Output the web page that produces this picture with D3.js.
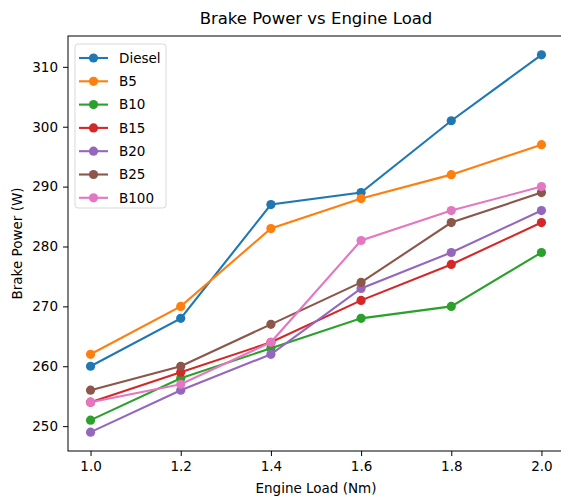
<!DOCTYPE html>
<html>
<head>
<meta charset="utf-8">
<script src="https://cdn.jsdelivr.net/npm/d3@7"></script>
<style>
  body { margin: 0; background: #fff; }
  svg { font-family: "DejaVu Sans", sans-serif; }
</style>
</head>
<body>
<svg id="chart" width="561" height="497"></svg>
<script>
var loads = [1.0, 1.2, 1.4, 1.6, 1.8, 2.0];
var seriesNames = ["Diesel", "B5", "B10", "B15", "B20", "B25", "B100"];
var diesel = [260, 268, 287, 289, 301, 312];
var b5 = [262, 270, 283, 288, 292, 297];
var b10 = [251, 258, 263, 268, 270, 279];
var b15 = [254, 259, 264, 271, 277, 284];
var b20 = [249, 256, 262, 273, 279, 286];
var b25 = [256, 260, 267, 274, 284, 289];
var b100 = [254, 257, 264, 281, 286, 290];
var xTicks = [1.0, 1.2, 1.4, 1.6, 1.8, 2.0];
var yTicks = [250, 260, 270, 280, 290, 300, 310];
var colors = ["#1f77b4", "#ff7f0e", "#2ca02c", "#d62728", "#9467bd", "#8c564b", "#e377c2"];

var allValues = [diesel, b5, b10, b15, b20, b25, b100];
var series = seriesNames.map(function(name, i) {
  return { name: name, color: colors[i], values: loads.map(function(x, j) { return {x: x, y: allValues[i][j]}; }) };
});

var svg = d3.select("#chart"),
    margin = {top: 36, right: -3, bottom: 46, left: 68},
    width = +svg.attr("width") - margin.left - margin.right,
    height = +svg.attr("height") - margin.top - margin.bottom,
    g = svg.append("g").attr("transform", "translate(" + margin.left + "," + margin.top + ")");

// matplotlib-style 5% padding
var ymin = d3.min(allValues, function(a) { return d3.min(a); }),
    ymax = d3.max(allValues, function(a) { return d3.max(a); }),
    ypad = (ymax - ymin) * 0.05;

var x = d3.scaleLinear().domain([0.95, 2.05]).range([0, width]),
    y = d3.scaleLinear().domain([ymin - ypad, ymax + ypad]).range([height, 0]);

var line = d3.line()
    .x(function(d) { return x(d.x); })
    .y(function(d) { return y(d.y); });

var xAxis = g.append("g")
    .attr("transform", "translate(0," + height + ")")
    .call(d3.axisBottom(x).tickValues(xTicks).tickFormat(d3.format(".1f")).tickSizeOuter(0).tickSize(5).tickPadding(5));
var yAxis = g.append("g")
    .call(d3.axisLeft(y).tickValues(yTicks).tickSizeOuter(0).tickSize(5).tickPadding(5));

[xAxis, yAxis].forEach(function(a) {
  a.selectAll("text").attr("font-size", 13.5).attr("fill", "#000").attr("font-family", "DejaVu Sans");
  a.selectAll(".tick line").attr("stroke", "#000");
  a.select(".domain").remove();
});

// frame
g.append("rect")
    .attr("width", width).attr("height", height)
    .attr("fill", "none").attr("stroke", "#000").attr("stroke-width", 1);

var s = g.selectAll(".series").data(series).enter().append("g").attr("class", "series");
s.append("path")
    .attr("d", function(d) { return line(d.values); })
    .attr("fill", "none")
    .attr("stroke", function(d) { return d.color; })
    .attr("stroke-width", 2.1);
s.selectAll("circle")
    .data(function(d) { return d.values.map(function(v) { return {x: v.x, y: v.y, color: d.color}; }); })
    .enter().append("circle")
    .attr("cx", function(d) { return x(d.x); })
    .attr("cy", function(d) { return y(d.y); })
    .attr("r", 4.6)
    .attr("fill", function(d) { return d.color; });

// titles
svg.append("text")
    .attr("x", margin.left + width / 2).attr("y", 24)
    .attr("text-anchor", "middle").attr("font-size", 16.5)
    .text("Brake Power vs Engine Load");
svg.append("text")
    .attr("x", margin.left + width / 2).attr("y", 493)
    .attr("text-anchor", "middle").attr("font-size", 13.5)
    .text("Engine Load (Nm)");
svg.append("text")
    .attr("transform", "translate(22," + (margin.top + height / 2) + ") rotate(-90)")
    .attr("text-anchor", "middle").attr("font-size", 13.5)
    .text("Brake Power (W)");

// legend
var legend = svg.append("g").attr("transform", "translate(75,44)");
legend.append("rect")
    .attr("width", 91).attr("height", 164).attr("rx", 3)
    .attr("fill", "#fff").attr("fill-opacity", 0.8)
    .attr("stroke", "#d9d9d9");
var item = legend.selectAll(".item").data(series).enter().append("g")
    .attr("transform", function(d, i) { return "translate(0," + (14 + i * 23.3) + ")"; });
item.append("line")
    .attr("x1", 4).attr("x2", 33)
    .attr("stroke", function(d) { return d.color; }).attr("stroke-width", 2.1);
item.append("circle")
    .attr("cx", 18.5).attr("r", 4.6)
    .attr("fill", function(d) { return d.color; });
item.append("text")
    .attr("x", 44).attr("dy", "0.35em").attr("font-size", 13.5)
    .text(function(d) { return d.name; });
</script>
</body>
</html>
